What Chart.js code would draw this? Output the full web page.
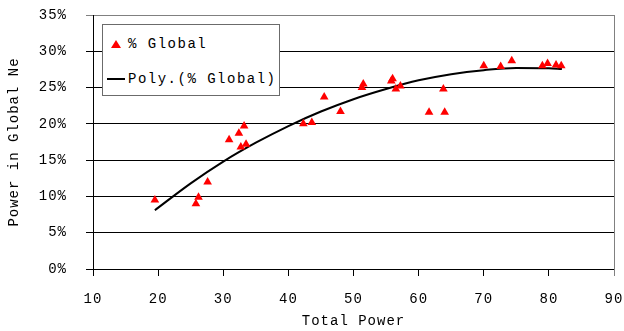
<!DOCTYPE html>
<html>
<head>
<meta charset="utf-8">
<script src="https://cdn.jsdelivr.net/npm/chart.js@4/dist/chart.umd.min.js"></script>
<style>
  html, body { margin: 0; padding: 0; background: #fff; }
  #wrap { position: relative; width: 624px; height: 331px; }
  #legend {
    position: absolute; left: 102px; top: 24px; width: 176px; height: 70px;
    border: 1px solid #6b6b6b; background: #fff;
    font: 14px "Liberation Mono", monospace; letter-spacing: 1.5px; color: #000;
  }
  .row { position: absolute; left: 0; height: 16px; line-height: 16px; white-space: nowrap; }
  .row svg { position: absolute; top: 0; }
  .row span { position: absolute; left: 25px; }
</style>
</head>
<body>
<div id="wrap">
  <canvas id="c" width="624" height="331"></canvas>
  <div id="legend">
    <div class="row" style="top:11px">
      <svg width="20" height="16" style="left:3px"><polygon points="10,4 15,12 5,12" fill="#ff0000"/></svg>
      <span>% Global</span>
    </div>
    <div class="row" style="top:46px">
      <svg width="20" height="16" style="left:3px"><line x1="1" y1="8" x2="19" y2="8" stroke="#000" stroke-width="2"/></svg>
      <span>Poly.(% Global)</span>
    </div>
  </div>
</div>
<script>
// Scatter of share vs total power, with the poly trendline.
const totalPower = [19.5, 25.8, 26.2, 27.6, 30.9, 32.4, 33.2, 32.7, 33.5, 42.3, 43.6, 45.5, 48.0,
  51.3, 51.5, 55.8, 56.0, 56.5, 57.2, 61.6, 63.8, 64.0, 70.0, 72.6, 74.3, 79.0, 79.8, 81.1, 81.9];
const globalShare = [9.5, 9.0, 9.9, 12.0, 17.8, 18.7, 19.7, 16.8, 17.2, 20.0, 20.2, 23.7, 21.7,
  25.0, 25.5, 25.9, 26.2, 24.8, 25.2, 21.6, 24.8, 21.6, 28.0, 27.9, 28.7, 28.0, 28.3, 28.1, 28.0];

const trendX = [19.5, 25, 30, 35, 40, 45, 50, 55, 60, 65, 70, 75, 80, 82];
const trendY = [8.1, 11.8, 14.8, 17.4, 19.7, 21.7, 23.4, 24.8, 26.0, 26.85, 27.4, 27.7, 27.65, 27.55];

const xTicks = [10, 20, 30, 40, 50, 60, 70, 80, 90];
const yTicks = [0, 5, 10, 15, 20, 25, 30, 35];

const FONT = { family: '"Liberation Mono", monospace', size: 14 };

const spacing = {
  id: 'spacing',
  beforeInit(chart) { chart.ctx.letterSpacing = '1px'; },
  beforeUpdate(chart) { chart.ctx.letterSpacing = '1px'; },
  beforeDraw(chart) { chart.ctx.letterSpacing = '1px'; }
};

// right edge of the plot frame, gray like the top gridline
const frame = {
  id: 'frame',
  afterDraw(chart) {
    const a = chart.chartArea, ctx = chart.ctx;
    ctx.save();
    ctx.strokeStyle = '#808080';
    ctx.lineWidth = 1;
    ctx.beginPath();
    ctx.moveTo(Math.round(a.right) + 0.5, a.top);
    ctx.lineTo(Math.round(a.right) + 0.5, a.bottom + 7);
    ctx.stroke();
    ctx.restore();
  }
};

new Chart(document.getElementById('c'), {
  type: 'scatter',
  data: {
    datasets: [
      {
        label: '% Global',
        data: totalPower.map((x, i) => ({ x, y: globalShare[i] })),
        pointStyle: 'triangle',
        pointRadius: 5,
        backgroundColor: '#ff0000',
        borderWidth: 0,
        order: 1
      },
      {
        label: 'Poly. (% Global)',
        type: 'line',
        data: trendX.map((x, i) => ({ x, y: trendY[i] })),
        borderColor: '#000',
        borderWidth: 2,
        pointRadius: 0,
        fill: false,
        cubicInterpolationMode: 'monotone',
        order: 2
      }
    ]
  },
  options: {
    responsive: false,
    animation: false,
    devicePixelRatio: 1,
    layout: { padding: 0 },
    plugins: { legend: { display: false }, tooltip: { enabled: false } },
    scales: {
      x: {
        type: 'linear',
        min: xTicks[0],
        max: xTicks[xTicks.length - 1],
        afterBuildTicks: (s) => { s.ticks = xTicks.map((v) => ({ value: v })); },
        afterFit: (s) => { s.height = 62; s.paddingLeft = 0; s.paddingRight = 10; },
        grid: { drawOnChartArea: false, tickLength: 7, color: '#000' },
        border: { color: '#000' },
        ticks: { color: '#000', font: FONT, padding: 15, maxRotation: 0 },
        title: { display: true, text: 'Total Power', color: '#000', font: FONT, padding: { top: 0, bottom: 1 } }
      },
      y: {
        min: yTicks[0],
        max: yTicks[yTicks.length - 1],
        afterBuildTicks: (s) => { s.ticks = yTicks.map((v) => ({ value: v })); },
        afterFit: (s) => { s.width = 93; s.paddingTop = 15; s.paddingBottom = 0; },
        grid: { tickLength: 7, color: (c) => (c.tick && c.tick.value === 35 ? '#808080' : '#000') },
        border: { color: '#000' },
        ticks: { color: '#000', font: FONT, padding: 19, callback: (v) => v + '%' },
        title: { display: true, text: 'Power in Global Ne', color: '#000', font: FONT, padding: { top: 6, bottom: 4 } }
      }
    }
  },
  plugins: [spacing, frame]
});
</script>
</body>
</html>
